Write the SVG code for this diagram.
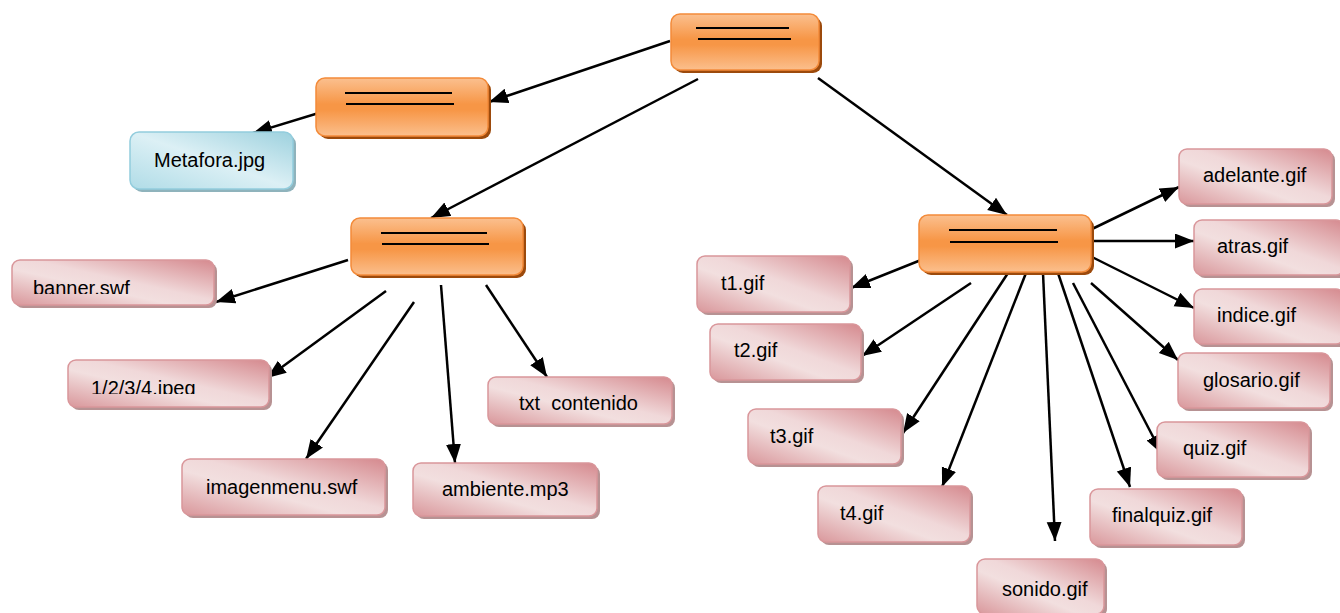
<svg xmlns="http://www.w3.org/2000/svg" width="1340" height="613" viewBox="0 0 1340 613">
<style>
.pk{fill:url(#gPink);stroke:#d9969a;stroke-width:1.5}
.pks{fill:#b79293}
.or{fill:url(#gOr);stroke:#f38b3a;stroke-width:1.5}
.ors{fill:#9c4a0c}
.bl{fill:url(#gBlue);stroke:#93cddd;stroke-width:1.5}
.bls{fill:#8fb3bc}
.ln{stroke:#000;stroke-width:2}
.t{font-family:"Liberation Sans",Arial,sans-serif;font-size:20px;fill:#000;white-space:pre}
.c{stroke:#000;stroke-width:2.5;fill:none;marker-end:url(#arr)}
</style>
<defs>
<linearGradient id="gPink" x1="1" y1="0" x2="0" y2="1">
<stop offset="0" stop-color="#d5898e"/>
<stop offset="0.45" stop-color="#f0d8d9"/>
<stop offset="0.6" stop-color="#f2dfdf"/>
<stop offset="1" stop-color="#d9979b"/>
</linearGradient>
<linearGradient id="gOr" x1="0" y1="0" x2="0" y2="1">
<stop offset="0" stop-color="#fbc08f"/>
<stop offset="0.45" stop-color="#f79646"/>
<stop offset="0.55" stop-color="#f79646"/>
<stop offset="1" stop-color="#fbbf8d"/>
</linearGradient>
<linearGradient id="gBlue" x1="1" y1="0" x2="0" y2="1">
<stop offset="0" stop-color="#9dd1de"/>
<stop offset="0.5" stop-color="#dcf0f5"/>
<stop offset="1" stop-color="#b0dce7"/>
</linearGradient>
<marker id="arr" markerUnits="userSpaceOnUse" markerWidth="22" markerHeight="18" refX="19" refY="7.5" orient="auto">
<path d="M0,0 L19,7.5 L0,15 z" fill="#000"/>
</marker>
<clipPath id="clipBanner"><rect x="0" y="250" width="230" height="44"/></clipPath>
<clipPath id="clipJpeg"><rect x="60" y="350" width="220" height="44"/></clipPath>
</defs>

<g id="connectors">
<line class="c" x1="670" y1="41" x2="489" y2="102"/>
<line class="c" x1="698" y1="79" x2="431" y2="218"/>
<line class="c" x1="818" y1="78" x2="1007" y2="215"/>
<line class="c" x1="322" y1="112" x2="253" y2="133"/>
<line class="c" x1="348" y1="260" x2="216" y2="302"/>
<line class="c" x1="386" y1="291" x2="267" y2="378"/>
<line class="c" x1="414" y1="302" x2="306" y2="459"/>
<line class="c" x1="441" y1="285" x2="455" y2="463"/>
<line class="c" x1="486" y1="285" x2="547" y2="377"/>
<line class="c" x1="921" y1="260" x2="851" y2="288"/>
<line class="c" x1="971" y1="283" x2="862" y2="356"/>
<line class="c" x1="1008" y1="273" x2="903" y2="433"/>
<line class="c" x1="1026" y1="273" x2="942" y2="487"/>
<line class="c" x1="1043" y1="273" x2="1055" y2="541"/>
<line class="c" x1="1058" y1="273" x2="1130" y2="487"/>
<line class="c" x1="1073" y1="283" x2="1162" y2="454"/>
<line class="c" x1="1091" y1="283" x2="1178" y2="360"/>
<line class="c" x1="1092" y1="257" x2="1194" y2="308"/>
<line class="c" x1="1092" y1="241" x2="1194" y2="241"/>
<line class="c" x1="1092" y1="229" x2="1179" y2="187"/>
</g>

<g id="top">
<rect class="ors" x="674" y="17" width="148" height="56" rx="9"/>
<rect class="or" x="671" y="14" width="148" height="56" rx="9"/>
<line class="ln" x1="696" y1="28" x2="789" y2="28"/>
<line class="ln" x1="698" y1="39" x2="791" y2="39"/>
</g>
<g id="n2">
<rect class="ors" x="319" y="81" width="172" height="58" rx="9"/>
<rect class="or" x="316" y="78" width="172" height="58" rx="9"/>
<line class="ln" x1="345" y1="93" x2="452" y2="93"/>
<line class="ln" x1="346" y1="104" x2="454" y2="104"/>
</g>
<g id="metafora">
<rect class="bls" x="133" y="135" width="163" height="57" rx="9"/>
<rect class="bl" x="130" y="132" width="163" height="57" rx="9"/>
<text class="t" x="154" y="167">Metafora.jpg</text>
</g>
<g id="n3">
<rect class="ors" x="354" y="221" width="172" height="57" rx="9"/>
<rect class="or" x="351" y="218" width="172" height="57" rx="9"/>
<line class="ln" x1="381" y1="233" x2="487" y2="233"/>
<line class="ln" x1="382" y1="244" x2="489" y2="244"/>
</g>
<g id="banner">
<rect class="pks" x="15" y="263" width="202" height="45" rx="8"/>
<rect class="pk" x="12" y="260" width="202" height="45" rx="8"/>
<text class="t" x="33" y="295" clip-path="url(#clipBanner)">banner.swf</text>
</g>
<g id="jpeg">
<rect class="pks" x="71" y="363" width="201" height="47" rx="8"/>
<rect class="pk" x="68" y="360" width="201" height="47" rx="8"/>
<text class="t" x="91" y="395" clip-path="url(#clipJpeg)">1/2/3/4.jpeg</text>
</g>
<g id="txt">
<rect class="pks" x="491" y="380" width="184" height="47" rx="8"/>
<rect class="pk" x="488" y="377" width="184" height="47" rx="8"/>
<text class="t" x="519" y="410" xml:space="preserve">txt  contenido</text>
</g>
<g id="imagenmenu">
<rect class="pks" x="185" y="462" width="203" height="56" rx="8"/>
<rect class="pk" x="182" y="459" width="203" height="56" rx="8"/>
<text class="t" x="206" y="494">imagenmenu.swf</text>
</g>
<g id="ambiente">
<rect class="pks" x="416" y="466" width="184" height="53" rx="8"/>
<rect class="pk" x="413" y="463" width="184" height="53" rx="8"/>
<text class="t" x="442" y="496">ambiente.mp3</text>
</g>
<g id="n4">
<rect class="ors" x="922" y="218" width="172" height="57" rx="9"/>
<rect class="or" x="919" y="215" width="172" height="57" rx="9"/>
<line class="ln" x1="949" y1="230" x2="1057" y2="230"/>
<line class="ln" x1="950" y1="242" x2="1058" y2="242"/>
</g>
<g id="t1">
<rect class="pks" x="700" y="259" width="153" height="56" rx="8"/>
<rect class="pk" x="697" y="256" width="153" height="56" rx="8"/>
<text class="t" x="721" y="290">t1.gif</text>
</g>
<g id="t2">
<rect class="pks" x="713" y="327" width="151" height="56" rx="8"/>
<rect class="pk" x="710" y="324" width="151" height="56" rx="8"/>
<text class="t" x="734" y="357">t2.gif</text>
</g>
<g id="t3">
<rect class="pks" x="751" y="412" width="153" height="55" rx="8"/>
<rect class="pk" x="748" y="409" width="153" height="55" rx="8"/>
<text class="t" x="770" y="443">t3.gif</text>
</g>
<g id="t4">
<rect class="pks" x="821" y="489" width="152" height="56" rx="8"/>
<rect class="pk" x="818" y="486" width="152" height="56" rx="8"/>
<text class="t" x="840" y="520">t4.gif</text>
</g>
<g id="sonido">
<rect class="pks" x="980" y="562" width="127" height="55" rx="8"/>
<rect class="pk" x="977" y="559" width="127" height="55" rx="8"/>
<text class="t" x="1002" y="596">sonido.gif</text>
</g>
<g id="finalquiz">
<rect class="pks" x="1093" y="492" width="152" height="56" rx="8"/>
<rect class="pk" x="1090" y="489" width="152" height="56" rx="8"/>
<text class="t" x="1112" y="522">finalquiz.gif</text>
</g>
<g id="quiz">
<rect class="pks" x="1160" y="425" width="152" height="55" rx="8"/>
<rect class="pk" x="1157" y="422" width="152" height="55" rx="8"/>
<text class="t" x="1183" y="455">quiz.gif</text>
</g>
<g id="glosario">
<rect class="pks" x="1181" y="356" width="152" height="55" rx="8"/>
<rect class="pk" x="1178" y="353" width="152" height="55" rx="8"/>
<text class="t" x="1203" y="387">glosario.gif</text>
</g>
<g id="indice">
<rect class="pks" x="1197" y="292" width="150" height="55" rx="8"/>
<rect class="pk" x="1194" y="289" width="150" height="55" rx="8"/>
<text class="t" x="1217" y="322">indice.gif</text>
</g>
<g id="atras">
<rect class="pks" x="1197" y="223" width="150" height="55" rx="8"/>
<rect class="pk" x="1194" y="220" width="150" height="55" rx="8"/>
<text class="t" x="1217" y="253">atras.gif</text>
</g>
<g id="adelante">
<rect class="pks" x="1182" y="152" width="153" height="55" rx="8"/>
<rect class="pk" x="1179" y="149" width="153" height="55" rx="8"/>
<text class="t" x="1203" y="182">adelante.gif</text>
</g>
</svg>
